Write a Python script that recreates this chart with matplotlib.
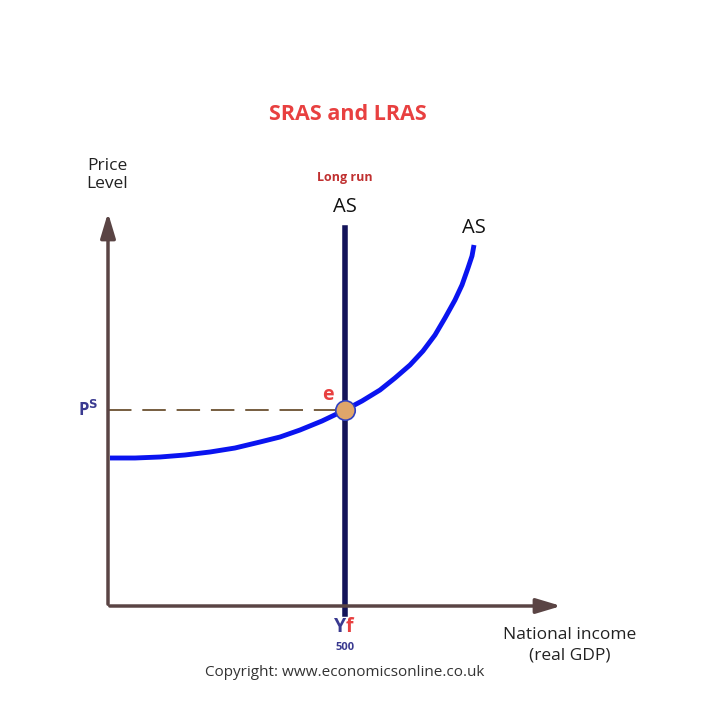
import matplotlib
matplotlib.use("Agg")
import matplotlib.pyplot as plt

plt.rcParams["font.family"] = ["Open Sans", "DejaVu Sans"]

# SRAS curve (pixel coords, y down)
sras_x = [110, 135, 160, 185, 210, 235, 260, 280, 300, 322, 345, 362, 380, 395, 410, 423, 435, 445, 455, 462, 468, 472, 474]
sras_y = [458, 458, 457, 455, 452, 448, 442, 437, 430, 421, 410, 401, 390, 378, 365, 351, 335, 318, 300, 285, 268, 256, 245]
lras_x = 345
lras_top, lras_bottom = 228, 606
eq_x, eq_y = 345, 410
origin = (108, 606)

fig = plt.figure(figsize=(7.12, 7.22), dpi=100)
ax = fig.add_axes([0, 0, 1, 1])
ax.set_xlim(0, 712)
ax.set_ylim(722, 0)
ax.axis("off")

axis_col = "#5a4444"
ax.annotate("", xy=(origin[0], 210), xytext=(origin[0], origin[1] + 1),
            arrowprops=dict(arrowstyle="-|>,head_length=1.5,head_width=0.45", color=axis_col, lw=2.5))
ax.annotate("", xy=(564, origin[1]), xytext=(origin[0] - 1, origin[1]),
            arrowprops=dict(arrowstyle="-|>,head_length=1.5,head_width=0.45", color=axis_col, lw=2.5))

ax.plot([origin[0], eq_x], [eq_y, eq_y], color="#6b5030", lw=1.3, dashes=(13, 6))
ax.plot(sras_x, sras_y, color="#0a14f0", lw=3.5, solid_capstyle="butt", solid_joinstyle="round")
ax.plot([lras_x, lras_x], [lras_top, lras_bottom + 8], color="#14145a", lw=4)
ax.plot([eq_x], [eq_y], "o", ms=14, mfc="#e0a66a", mec="#3040c0", mew=1.2)

ax.text(348, 115, "SRAS and LRAS", color="#e84040", fontsize=15.5, fontweight="bold", ha="center", va="center")
ax.text(107, 175, "Price\nLevel", fontsize=12.5, ha="center", va="center", color="#222222", linespacing=1.15)
ax.text(345, 178, "Long run", color="#c03030", fontsize=9, fontweight="bold", ha="center", va="center")
ax.text(345, 207, "AS", fontsize=14.5, ha="center", va="center", color="#111111")
ax.text(474, 228, "AS", fontsize=14.5, ha="center", va="center", color="#111111")
ax.text(328, 395, "e", color="#e84040", fontsize=14, fontweight="bold", ha="center", va="center")
ax.text(88, 410, "P$^{\\mathbf{S}}$", color="#3a3a90", fontsize=12, fontweight="bold", ha="center", va="center")
ax.text(346, 627, "Y", color="#3a3a90", fontsize=14, fontweight="bold", ha="right", va="center")
ax.text(346, 627, "f", color="#e84040", fontsize=14, fontweight="bold", ha="left", va="center")
ax.text(345, 647, "500", color="#3a3a90", fontsize=8, fontweight="bold", ha="center", va="center")
ax.text(570, 645, "National income\n(real GDP)", fontsize=12.5, ha="center", va="center", color="#222222", linespacing=1.35)
ax.text(345, 672, "Copyright: www.economicsonline.co.uk", fontsize=11, ha="center", va="center", color="#333333")

fig.savefig("out.png", dpi=100)
